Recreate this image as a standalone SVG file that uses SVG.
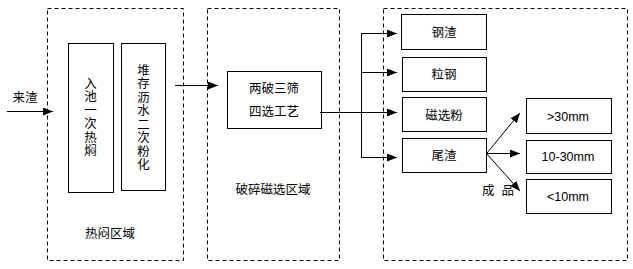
<svg xmlns="http://www.w3.org/2000/svg" width="633" height="269" viewBox="0 0 633 269">
<defs>
<marker id="ah" markerUnits="userSpaceOnUse" markerWidth="10" markerHeight="8" refX="10" refY="4" orient="auto">
<path d="M0,0 L10,4 L0,8 z" fill="#000"/>
</marker>
<style>
.zone{fill:none;stroke:#000;stroke-width:1;stroke-dasharray:4,3}
.box{fill:#fff;stroke:#000;stroke-width:1}
.t{font-family:"Liberation Sans","Noto Sans CJK SC",sans-serif;font-size:12.5px;fill:#000;text-anchor:middle}
.c{fill:none;stroke:#000;stroke-width:1}
.a{marker-end:url(#ah)}
</style>
</defs>
<rect width="633" height="269" fill="#fff"/>
<g id="zone-heat">
<rect class="zone" x="47.5" y="8.5" width="136" height="252"/>
<text class="t" x="110" y="238">热闷区域</text>
</g>
<g id="zone-crush">
<rect class="zone" x="207.5" y="8.5" width="132" height="252"/>
<text class="t" x="273" y="194">破碎磁选区域</text>
</g>
<g id="zone-product">
<rect class="zone" x="383.5" y="8.5" width="244" height="252"/>
</g>
<g id="input">
<text class="t" x="25" y="102">来渣</text>
</g>
<g id="n-heat1">
<rect class="box" x="68.5" y="43.5" width="45" height="149"/>
<text class="t" x="90.5"><tspan x="90.5" y="87.5">入</tspan><tspan x="90.5" y="101">池</tspan><tspan x="90.5" y="114.5">一</tspan><tspan x="90.5" y="128">次</tspan><tspan x="90.5" y="141.5">热</tspan><tspan x="90.5" y="155">焖</tspan></text>
</g>
<g id="n-heat2">
<rect class="box" x="121.5" y="43.5" width="44" height="147"/>
<text class="t" x="143.5"><tspan x="143.5" y="74.5">堆</tspan><tspan x="143.5" y="88">存</tspan><tspan x="143.5" y="101.5">沥</tspan><tspan x="143.5" y="115">水</tspan><tspan x="143.5" y="128.5">二</tspan><tspan x="143.5" y="142">次</tspan><tspan x="143.5" y="155.5">粉</tspan><tspan x="143.5" y="169">化</tspan></text>
</g>
<g id="n-process">
<rect class="box" x="227.5" y="71.5" width="94" height="57"/>
<text class="t" x="274" y="92.5">两破三筛</text>
<text class="t" x="274" y="115.5">四选工艺</text>
</g>
<g id="n-steel-slag">
<rect class="box" x="401.5" y="14.5" width="85" height="35"/>
<text class="t" x="444" y="36.5">钢渣</text>
</g>
<g id="n-granular-steel">
<rect class="box" x="402.5" y="57.5" width="84" height="34"/>
<text class="t" x="444" y="79">粒钢</text>
</g>
<g id="n-mag-powder">
<rect class="box" x="402.5" y="97.5" width="84" height="34"/>
<text class="t" x="444" y="120">磁选粉</text>
</g>
<g id="n-tail">
<rect class="box" x="402.5" y="138.5" width="84" height="34"/>
<text class="t" x="444" y="159.5">尾渣</text>
</g>
<g id="n-gt30">
<rect class="box" x="526.5" y="98.5" width="85" height="35"/>
<text class="t" x="568" y="120.5">&gt;30mm</text>
</g>
<g id="n-10-30">
<rect class="box" x="526.5" y="140.5" width="85" height="33"/>
<text class="t" x="568" y="161">10-30mm</text>
</g>
<g id="n-lt10">
<rect class="box" x="526.5" y="179.5" width="85" height="34"/>
<text class="t" x="568" y="201">&lt;10mm</text>
</g>
<g id="label-product">
<text class="t" x="498" y="195" xml:space="preserve">成  品</text>
</g>
<g id="connectors">
<line class="c a" x1="7" y1="111.5" x2="53" y2="111.5"/>
<line class="c a" x1="175" y1="85.5" x2="218" y2="85.5"/>
<line class="c" x1="320" y1="112.5" x2="361.5" y2="112.5"/>
<line class="c" x1="361.5" y1="33" x2="361.5" y2="158"/>
<line class="c a" x1="361.5" y1="33.5" x2="397" y2="33.5"/>
<line class="c a" x1="361.5" y1="72.5" x2="397" y2="72.5"/>
<line class="c a" x1="361.5" y1="112.5" x2="397" y2="112.5"/>
<line class="c a" x1="361.5" y1="157.5" x2="397" y2="157.5"/>
<line class="c a" x1="486.5" y1="153.5" x2="520" y2="113"/>
<line class="c a" x1="486.5" y1="153.5" x2="520" y2="153.5"/>
<line class="c a" x1="486.5" y1="153.5" x2="520" y2="191"/>
</g>
</svg>
